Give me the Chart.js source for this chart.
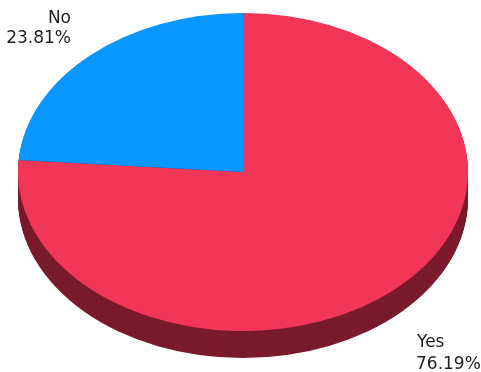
<!DOCTYPE html>
<html>
<head>
<meta charset="utf-8">
<script src="https://cdn.jsdelivr.net/npm/chart.js@4.4.1/dist/chart.umd.min.js"></script>
<style>
  html, body { margin: 0; padding: 0; background: #ffffff; }
  #wrap { position: relative; width: 481px; height: 372px; }
</style>
</head>
<body>
<div id="wrap"><canvas id="pie" width="481" height="372"></canvas></div>
<script>
// Survey answers
const categories = ['Yes', 'No'];
const counts = [16, 5];
const sliceColors = ['#F13657', '#0A96FF'];
const sideColors = ['#7A1B2C', '#05447A'];

const total = counts.reduce((a, b) => a + b, 0);
const percentText = counts.map(v => (v / total * 100).toFixed(2) + '%');

// Tilted pie: flatten the disc vertically and paint a thick rim underneath
const TILT = 159 / 225;
const DEPTH = 27;

const tiltPlugin = {
  id: 'tilt',
  beforeDatasetsDraw(chart) {
    const ctx = chart.ctx;
    const arcs = chart.getDatasetMeta(0).data;
    if (!arcs.length) return;
    const cx = arcs[0].x, cy = arcs[0].y;
    ctx.save();
    ctx.translate(cx, cy);
    ctx.scale(1, TILT);
    ctx.translate(-cx, -cy);
    for (let d = DEPTH; d >= 1; d--) {
      const off = d / TILT;
      arcs.forEach((a, i) => {
        ctx.beginPath();
        ctx.moveTo(a.x, a.y + off);
        ctx.arc(a.x, a.y + off, a.outerRadius, a.startAngle, a.endAngle);
        ctx.closePath();
        ctx.fillStyle = sideColors[i];
        ctx.fill();
      });
    }
  },
  afterDatasetsDraw(chart) {
    chart.ctx.restore();
  },
  afterDraw(chart) {
    const ctx = chart.ctx;
    ctx.save();
    ctx.fillStyle = '#1e1e1e';
    ctx.font = '17px "DejaVu Sans", sans-serif';
    ctx.textBaseline = 'alphabetic';
    // "No" caption at the upper left, "Yes" caption at the lower right
    ctx.textAlign = 'right';
    ctx.fillText(categories[1], 71, 23);
    ctx.fillText(percentText[1], 71, 43);
    ctx.textAlign = 'left';
    ctx.fillText(categories[0], 417, 347);
    ctx.fillText(percentText[0], 416, 369);
    ctx.restore();
  }
};

new Chart(document.getElementById('pie'), {
  type: 'pie',
  data: {
    labels: categories,
    datasets: [{
      data: counts,
      backgroundColor: sliceColors,
      borderWidth: 0,
      radius: 225,
      clip: false
    }]
  },
  options: {
    responsive: false,
    animation: false,
    events: [],
    layout: { padding: { left: 5, right: 0, top: 0, bottom: 28 } },
    plugins: {
      legend: { display: false },
      tooltip: { enabled: false }
    }
  },
  plugins: [tiltPlugin]
});
</script>
</body>
</html>
